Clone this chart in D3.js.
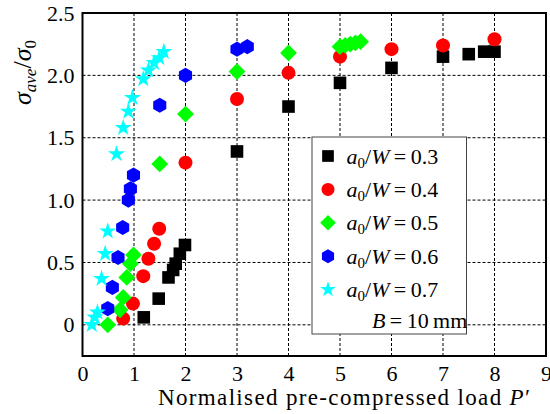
<!DOCTYPE html>
<html><head><meta charset="utf-8"><script src="https://cdn.jsdelivr.net/npm/d3@7"></script></head>
<body style="margin:0">
<script>
// Data: [P', sigma_ave/sigma_0]
const ratio03 = [[1.19, 0.06], [1.48, 0.21], [1.67, 0.38], [1.76, 0.44], [1.81, 0.49], [1.89, 0.57], [1.99, 0.64],
                 [3.0, 1.39], [4.0, 1.75], [5.0, 1.94], [6.0, 2.06], [7.0, 2.15], [7.5, 2.17], [7.8, 2.19], [8.0, 2.19]];
const ratio04 = [[0.79, 0.05], [0.98, 0.17], [1.18, 0.39], [1.28, 0.53], [1.39, 0.65], [1.49, 0.77],
                 [2.0, 1.30], [3.0, 1.81], [4.0, 2.02], [5.0, 2.15], [6.0, 2.21], [7.0, 2.24], [8.0, 2.29]];
const ratio05 = [[0.49, 0.0], [0.73, 0.12], [0.79, 0.22], [0.86, 0.38], [0.93, 0.49], [0.99, 0.56],
                 [1.5, 1.29], [2.0, 1.69], [3.0, 2.03], [4.0, 2.18],
                 [5.0, 2.23], [5.1, 2.24], [5.2, 2.25], [5.3, 2.26], [5.4, 2.27]];
const ratio06 = [[0.49, 0.13], [0.58, 0.30], [0.69, 0.54], [0.78, 0.78], [0.89, 1.0], [0.93, 1.09], [0.99, 1.2],
                 [1.5, 1.76], [2.0, 2.0], [3.0, 2.21], [3.2, 2.23]];
const ratio07 = [[0.18, 0.0], [0.24, 0.06], [0.29, 0.10], [0.37, 0.37], [0.44, 0.57], [0.49, 0.75],
                 [0.66, 1.37], [0.79, 1.58], [0.89, 1.71], [0.97, 1.82],
                 [1.18, 1.97], [1.28, 2.04], [1.39, 2.10], [1.49, 2.14], [1.58, 2.19]];

const seriesNames = ["0.3", "0.4", "0.5", "0.6", "0.7"];
const seriesData = [ratio03, ratio04, ratio05, ratio06, ratio07];
const seriesColors = ["#000000", "#ff0000", "#00ff00", "#0000ff", "#00ffff"];
const seriesShapes = ["square", "circle", "diamond", "hexagon", "star"];

const xTicks = [0, 1, 2, 3, 4, 5, 6, 7, 8, 9];
const yTicks = [0, 0.5, 1.0, 1.5, 2.0, 2.5];

const serif = "Liberation Serif";

const W = 550, H = 414;
const margin = { top: 13, right: 4, bottom: 58, left: 82.5 };
const width = W - margin.left - margin.right,
      height = H - margin.top - margin.bottom;

const svg = d3.select("body").append("svg")
    .attr("width", W)
    .attr("height", H);

const g = svg.append("g")
    .attr("transform", `translate(${margin.left},${margin.top})`);

const x = d3.scaleLinear().domain([0, 9]).range([0, width]);
const y = d3.scaleLinear().domain([-0.25, 2.5]).range([height, 0]);

// marker shapes, roughly like matplotlib s, o, D, h, *
function shapePath(shape, s) {
    if (shape === "square") {
        const h = s * 0.45;
        return `M${-h},${-h}H${h}V${h}H${-h}Z`;
    }
    if (shape === "circle") {
        const r = s * 0.5;
        return `M${r},0A${r},${r} 0 1,1 ${-r},0A${r},${r} 0 1,1 ${r},0Z`;
    }
    if (shape === "diamond") {
        const r = s * 0.6;
        return `M0,${-r}L${r},0L0,${r}L${-r},0Z`;
    }
    if (shape === "hexagon") {
        const r = s * 0.54;
        const pts = d3.range(6).map(i => {
            const a = -Math.PI / 2 + i * Math.PI / 3;
            return [r * Math.cos(a), r * Math.sin(a)];
        });
        return "M" + pts.map(p => p.join(",")).join("L") + "Z";
    }
    // star
    const R = s * 0.64, rIn = R * 0.382;
    const pts = d3.range(10).map(i => {
        const a = -Math.PI / 2 + i * Math.PI / 5;
        const rr = i % 2 === 0 ? R : rIn;
        return [rr * Math.cos(a), rr * Math.sin(a)];
    });
    return "M" + pts.map(p => p.join(",")).join("L") + "Z";
}

// text helper: font set on the element itself
function addText(parent, size) {
    return parent.append("text")
        .attr("font-family", serif)
        .style("font-family", serif, "important")
        .attr("font-size", size)
        .attr("fill", "#000");
}

// Grid (dashed)
g.append("g")
    .selectAll("line")
    .data(xTicks.slice(1, -1))
    .enter()
    .append("line")
    .attr("x1", d => x(d)).attr("x2", d => x(d))
    .attr("y1", 0).attr("y2", height)
    .attr("stroke", "#000")
    .attr("stroke-width", 1)
    .attr("stroke-dasharray", "3,2");

g.append("g")
    .selectAll("line")
    .data(yTicks.slice(0, -1))
    .enter()
    .append("line")
    .attr("x1", 0).attr("x2", width)
    .attr("y1", d => y(d)).attr("y2", d => y(d))
    .attr("stroke", "#000")
    .attr("stroke-width", 1)
    .attr("stroke-dasharray", "3,2");

// Axes (labels only, no outside ticks)
const xAxis = g.append("g")
    .attr("transform", `translate(0,${height})`)
    .call(d3.axisBottom(x).tickValues(xTicks).tickSize(0).tickPadding(9).tickFormat(d3.format("d")));
const yAxis = g.append("g")
    .call(d3.axisLeft(y).tickValues(yTicks).tickSize(0).tickPadding(8)
        .tickFormat(d => d === 0 ? "0" : d3.format(".1f")(d)));
[xAxis, yAxis].forEach(a => {
    a.attr("font-family", serif);
    a.select(".domain").remove();
    a.selectAll("text")
        .attr("font-family", serif)
        .style("font-family", serif, "important")
        .attr("font-size", 22);
});

// Points
seriesData.forEach((pts, i) => {
    g.append("g")
        .selectAll("path")
        .data(pts)
        .enter()
        .append("path")
        .attr("transform", d => `translate(${x(d[0])},${y(d[1])})`)
        .attr("d", shapePath(seriesShapes[i], 14))
        .attr("fill", seriesColors[i])
        .attr("stroke", "none");
});

// Frame
g.append("rect")
    .attr("width", width).attr("height", height)
    .attr("fill", "none")
    .attr("stroke", "#000")
    .attr("stroke-width", 2);

// Legend
const legend = svg.append("g").attr("transform", "translate(312,137)");
legend.append("rect")
    .attr("width", 154.5).attr("height", 197)
    .attr("fill", "#fff")
    .attr("stroke", "#444")
    .attr("stroke-width", 1);

seriesNames.forEach((name, i) => {
    const row = legend.append("g").attr("transform", `translate(0,${19 + i * 33.4})`);
    row.append("path")
        .attr("transform", "translate(16,0)")
        .attr("d", shapePath(seriesShapes[i], 13))
        .attr("fill", seriesColors[i]);
    const t = addText(row, 22)
        .attr("x", 34.5).attr("y", 7.5);
    t.append("tspan").attr("font-style", "italic").text("a");
    t.append("tspan").attr("dy", 4).attr("font-size", 15).text("0");
    t.append("tspan").attr("dy", -4).text("/");
    t.append("tspan").attr("font-style", "italic").text("W");
    t.append("tspan").text("\u2009=\u2009" + name);
});

const bt = addText(legend, 22)
    .attr("x", 60).attr("y", 191);
bt.append("tspan").attr("font-style", "italic").text("B");
bt.append("tspan").text("\u2009=\u200910\u2009mm");

// Axis titles
const xt = addText(svg, 23)
    .attr("x", 158).attr("y", 405)
    .attr("textLength", 372)
    .attr("lengthAdjust", "spacing");
xt.append("tspan").text("Normalised pre-compressed load ");
xt.append("tspan").attr("font-style", "italic").text("P");
xt.append("tspan").text("\u2032");

const yt = addText(svg, 26)
    .attr("transform", "translate(31,105) rotate(-90)");
yt.append("tspan").attr("font-style", "italic").text("σ");
yt.append("tspan").attr("dy", 5).attr("font-size", 17).attr("font-style", "italic").text("ave");
yt.append("tspan").attr("dy", -5).text("/");
yt.append("tspan").attr("font-style", "italic").text("σ");
yt.append("tspan").attr("dy", 5).attr("font-size", 17).text("0");
</script>
</body>
</html>
